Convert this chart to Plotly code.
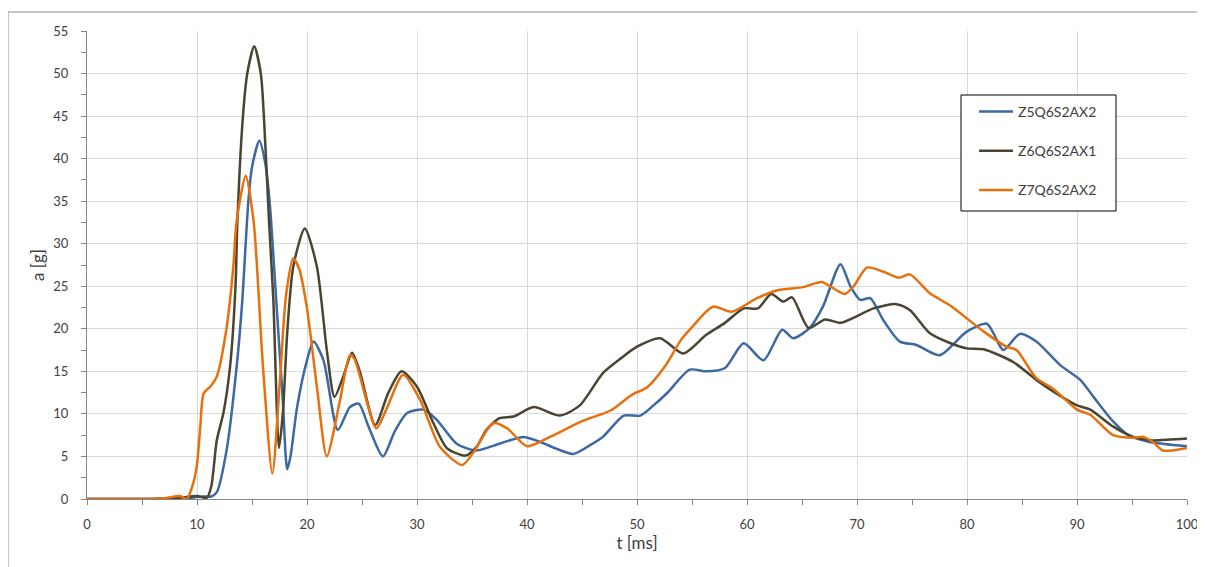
import plotly.graph_objects as go

# ---- data ----
blue_name = "Z5Q6S2AX2"
blue_t = [0, 5, 8, 9.5, 10.5, 11.3, 11.8, 12.7, 13.6, 14.1, 14.67, 15.0, 15.67, 16.2, 16.6, 17.2, 17.8, 18.2, 18.5,
          19.1, 20.0, 20.6, 21.5, 22.8, 23.9, 24.7, 25.6, 26.9, 28.0, 29.1, 30.6, 31.8, 33.6, 35.4, 37.5, 39.7,
          41.2, 44.2, 45.7, 46.9, 48.8, 50.3, 51.5, 52.7, 54.8, 56.3, 58.0, 59.7, 61.5, 63.2, 64.2, 65.7, 66.9,
          68.5, 69.4, 70.3, 71.2, 72.4, 73.9, 75.4, 77.5, 80.0, 81.8, 82.4, 83.3, 84.8, 86.3, 88.5, 90.3, 91.5,
          93.3, 94.8, 96.6, 100]
blue_a = [0, 0, 0.05, 0.15, 0.3, 0.3, 0.8, 5.8, 15.5, 23, 35, 39, 42.1, 39.5, 35, 23.4, 11.6, 3.5, 5,
          10.8, 16.3, 18.5, 16.3, 8.1, 10.8, 11.2, 8.5, 5.0, 8, 10.1, 10.5, 9.3, 6.5, 5.7, 6.5, 7.3,
          6.7, 5.3, 6.3, 7.3, 9.8, 9.8, 11, 12.4, 15.2, 15.0, 15.4, 18.3, 16.3, 19.9, 18.9, 20.1, 22.6,
          27.6, 25.0, 23.4, 23.6, 21.0, 18.5, 18.1, 16.9, 19.7, 20.6, 19.5, 17.5, 19.4, 18.5, 15.7, 14.0, 12.0,
          9.1, 7.4, 6.7, 6.2]

dark_name = "Z6Q6S2AX1"
dark_t = [0, 5, 8, 10, 10.9, 11.3, 11.8, 12.4, 13.0, 13.5, 13.67, 14.15, 14.57, 15.2, 15.8, 16.1, 16.55, 16.94,
          17.45, 17.8, 18.2, 18.75, 19.8, 20.9, 21.8, 22.5, 23.3, 24.1, 24.8, 26.2, 27.4, 28.6, 30.0, 31.5,
          32.7, 34.4, 35.4, 36.3, 37.5, 38.8, 40.6, 43.0, 44.8, 46.9, 48.5, 50.0, 52.1, 54.2, 56.3, 58.0,
          59.7, 61.0, 62.2, 63.3, 64.1, 65.6, 67.1, 68.5, 70.0, 71.5, 73.6, 74.8, 76.6, 78.5, 80.0, 81.5,
          84.2, 86.3, 88.0, 90.0, 91.2, 93.3, 95.1, 96.6, 100]
dark_a = [0, 0, 0.1, 0.35, 0.15, 1.5, 6.9, 10.1, 15.5, 25, 32.6, 44.5, 50, 53.2, 50, 44.5, 32.6, 23.4,
          6.0, 10, 19.5, 27.3, 31.8, 27.3, 17.5, 12.0, 14.4, 17.2, 15, 8.7, 12.5, 15.0, 13.2, 8.9,
          6.0, 5.1, 6.1, 8.1, 9.5, 9.7, 10.8, 9.8, 11.0, 14.8, 16.5, 17.9, 18.9, 17.1, 19.3, 20.7,
          22.4, 22.4, 24.1, 23.2, 23.7, 20.1, 21.1, 20.7, 21.5, 22.4, 22.9, 22.2, 19.5, 18.3, 17.7, 17.6,
          16.1, 14.0, 12.5, 11.0, 10.5, 8.5, 7.3, 6.9, 7.1]

orange_name = "Z7Q6S2AX2"
orange_t = [0, 5, 7, 8.45, 9.06, 9.5, 9.97, 10.3, 10.6, 11.2, 11.8, 12.7, 13.3, 13.6, 14.43, 15.15, 16.0,
            16.85, 17.5, 18.1, 18.75, 19.3, 20.0, 20.9, 21.8, 23.0, 23.9, 24.3, 26.3, 27.2, 28.75, 30.3, 32.1,
            34.1, 35.1, 36.9, 38.2, 40.0, 42.1, 45.1, 47.6, 49.6, 50.9, 52.5, 54.0, 54.8, 56.9, 58.6, 60.9,
            62.7, 65.1, 66.8, 67.8, 68.9, 69.7, 70.9, 72.4, 73.8, 74.8, 76.6, 78.5, 81.5, 83.6, 84.5, 86.3,
            87.8, 90.0, 91.2, 93.3, 95.1, 96.0, 96.9, 97.8, 100]
orange_a = [0, 0, 0.1, 0.35, 0.0, 1.2, 3.8, 8.5, 12.4, 13.2, 14.4, 20.2, 27.3, 32.6, 38.0, 32.6, 15.5,
            3.0, 13.2, 24, 28.3, 27, 22.4, 13.2, 5.0, 11.6, 16.9, 16.5, 8.3, 10.5, 14.6, 11.6, 6.1,
            4.0, 5.4, 8.9, 8.3, 6.2, 7.3, 9.2, 10.4, 12.3, 13.1, 15.5, 18.7, 19.9, 22.6, 22.0, 23.6,
            24.5, 24.9, 25.5, 24.8, 24.1, 25.0, 27.2, 26.7, 26.0, 26.4, 24.2, 22.7, 19.7, 17.9, 17.5, 14.2,
            13.0, 10.5, 9.9, 7.5, 7.2, 7.3, 6.7, 5.7, 6.0]

x_ticks = list(range(0, 101, 10))
y_ticks = list(range(0, 56, 5))

FONT = "Lato"
TXT = "#404040"

fig = go.Figure()
series = [
    (blue_name, blue_t, blue_a, "#3D68A3"),
    (dark_name, dark_t, dark_a, "#4A4530"),
    (orange_name, orange_t, orange_a, "#E8700C"),
]
for i, (name, t, a, col) in enumerate(series):
    fig.add_trace(go.Scatter(
        x=t, y=a, name=name, mode="lines", legendgroup=f"g{i}",
        line=dict(color=col, width=2.5, shape="spline", smoothing=0.7),
    ))

# plot area in screen pixels: x 87..1187, y 31..499 (page body margin 8px)
PX0, PX1, PY0, PY1 = 87, 1187, 31, 499
def px(x):
    return (x - PX0) / (PX1 - PX0)
def py(y):
    return (PY1 - y) / (PY1 - PY0)

fig.update_layout(
    width=1197, height=559,
    margin=dict(l=79, r=18, t=23, b=68, autoexpand=False),
    paper_bgcolor="white", plot_bgcolor="white",
    font=dict(family=FONT, size=13, color=TXT),
    legend=dict(
        x=px(974), y=py(96), xanchor="left", yanchor="top",
        borderwidth=0, bgcolor="rgba(0,0,0,0)",
        font=dict(family=FONT, size=14, color=TXT),
        tracegroupgap=18, traceorder="grouped", itemwidth=34,
    ),
    shapes=[
        dict(type="rect", xref="paper", yref="paper",
             x0=px(8), x1=1.2, y0=-0.3, y1=py(12),
             line=dict(color="#8c8c8c", width=1), fillcolor="rgba(0,0,0,0)", layer="below"),
        dict(type="rect", xref="paper", yref="paper",
             x0=px(961), x1=px(1116), y0=py(211), y1=py(95),
             line=dict(color="#000000", width=1), fillcolor="white", layer="above"),
    ],
)
fig.update_xaxes(
    range=[0, 100], tickvals=x_ticks, ticktext=[str(v) for v in x_ticks],
    showgrid=True, gridcolor="#d9d9d9", gridwidth=1,
    showline=True, linecolor="#868686", linewidth=1,
    ticks="outside", ticklen=5, tickcolor="#868686",
    minor=dict(dtick=5, ticks="outside", ticklen=5, tickcolor="#868686", showgrid=False),
    zeroline=False, ticklabelstandoff=8, automargin=False,
    title=dict(text="t [ms]", font=dict(family=FONT, size=17, color=TXT), standoff=6),
)
fig.update_yaxes(
    range=[0, 55], tickvals=y_ticks, ticktext=[str(v) for v in y_ticks],
    showgrid=True, gridcolor="#d9d9d9", gridwidth=1,
    showline=True, linecolor="#868686", linewidth=1,
    ticks="outside", ticklen=5, tickcolor="#868686",
    minor=dict(dtick=2.5, ticks="outside", ticklen=5, tickcolor="#868686", showgrid=False),
    zeroline=False, ticklabelstandoff=10, automargin=False,
    title=dict(text="a [g]", font=dict(family=FONT, size=17, color=TXT), standoff=4),
)

fig.write_html("out.html")
